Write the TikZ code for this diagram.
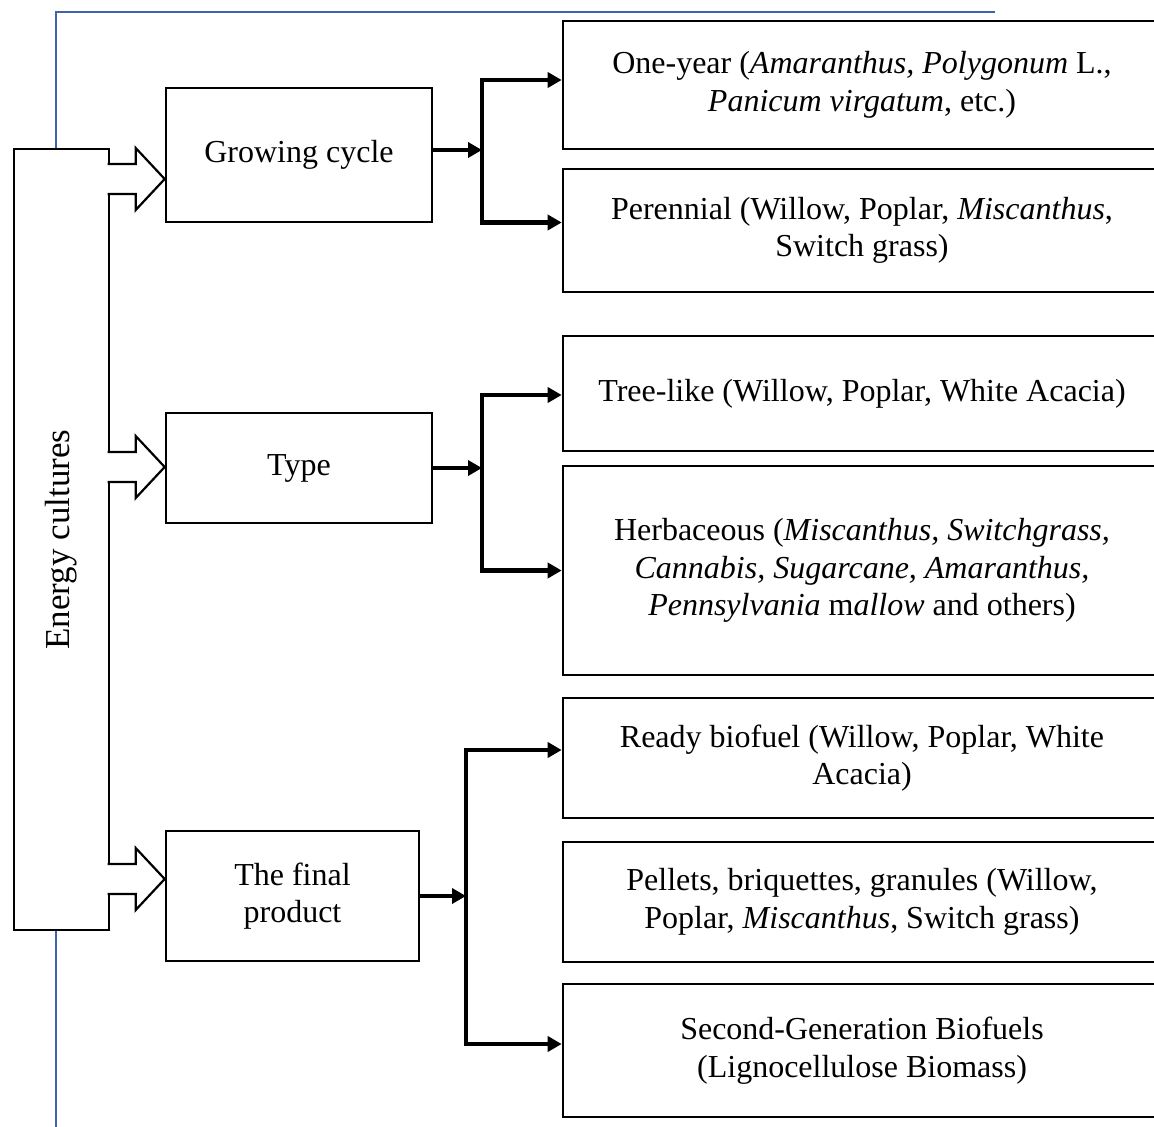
\documentclass[tikz,border=0pt]{standalone}
\usepackage{fontspec}
\setmainfont{Liberation Serif}
\usetikzlibrary{arrows.meta}
\definecolor{frameblue}{RGB}{63,100,170}
\begin{document}
\begin{tikzpicture}[x=1pt,y=-1pt,
  txt/.style={font=\fontsize{32}{37.5}\selectfont},
  box/.style={draw, rectangle, line width=2.6pt, fill=white, inner sep=0pt,
              align=center, txt},
  leftbox/.style={box, minimum width=266pt},
  rightbox/.style={box, minimum width=598pt},
  brk/.style={line width=4.5pt, line join=miter},
  tip/.style={-{Triangle[length=14pt,width=15pt]}},
  hollow/.style={draw, line width=2.2pt, fill=white, line join=miter},
  fatarrow/.pic={
    \path[hollow] (-57,-15) -- (-29,-15) -- (-29,-31) -- (0,0)
      -- (-29,31) -- (-29,15) -- (-57,15);
  }]
\useasboundingbox (0,0) rectangle (1154,1127);
\clip (0,0) rectangle (1154,1127);

% page frame line
\draw[frameblue, line width=1.6pt] (56,1140) -- (56,12) -- (995,12);

% main block
\node[box, minimum width=95pt, minimum height=781pt] (ec) at (61.5,539.5) {};
\node[font=\fontsize{35}{40}\selectfont, rotate=90] (ectext) at (ec.center) {Energy cultures};

% classification criteria
\node[leftbox, minimum height=134pt] (gc) at (299,155) {Growing cycle};
\node[leftbox, minimum height=110pt] (ty) at (299,468) {Type};
\node[box, minimum width=253pt, minimum height=130pt] (fp) at (292.5,896) {The final\\product};

% categories
\node[rightbox, minimum height=128pt] (ow) at (862,85)
  {One-year (\textit{Amaranthus, Polygonum} L.,\\\textit{Panicum virgatum}, etc.)};
\node[rightbox, minimum height=123pt] (pe) at (862,230.5)
  {Perennial (Willow, Poplar, \textit{Miscanthus},\\Switch grass)};
\node[rightbox, minimum height=115pt] (tr) at (862,393.5)
  {Tree-like (Willow, Poplar, White Acacia)};
\node[rightbox, minimum height=209pt] (he) at (862,570.5)
  {Herbaceous (\textit{Miscanthus, Switchgrass,}\\\textit{Cannabis, Sugarcane, Amaranthus,}\\\textit{Pennsylvania} m\textit{allow} and others)};
\node[rightbox, minimum height=120pt] (rb) at (862,758)
  {Ready biofuel (Willow, Poplar, White\\Acacia)};
\node[rightbox, minimum height=120pt] (pb) at (862,902)
  {Pellets, briquettes, granules (Willow,\\Poplar, \textit{Miscanthus}, Switch grass)};
\node[rightbox, minimum height=133pt] (sg) at (862,1050.5)
  {Second-Generation Biofuels\\(Lignocellulose Biomass)};

% hollow block arrows from the main block
\pic at ([yshift=-24pt]gc.west) {fatarrow};
\pic at ([yshift=1pt]ty.west) {fatarrow};
\pic at ([yshift=17pt]fp.west) {fatarrow};

% branching connectors
\coordinate (j1) at (482,150);
\coordinate (j2) at (482,468);
\coordinate (j3) at (466,896);

\draw[brk,tip] ([yshift=5pt]gc.east) -- (j1);
\draw[brk,tip] (j1) |- ([yshift=5pt]ow.west);
\draw[brk,tip] (j1) |- ([yshift=8pt]pe.west);

\draw[brk,tip] (ty.east) -- (j2);
\draw[brk,tip] (j2) |- ([yshift=-1.5pt]tr.west);
\draw[brk,tip] (j2) |- (he.west);

\draw[brk,tip] (fp.east) -- (j3);
\draw[brk,tip] (j3) |- ([yshift=8pt]rb.west);
\draw[brk,tip] (j3) |- ([yshift=6.5pt]sg.west);
\end{tikzpicture}
\end{document}
